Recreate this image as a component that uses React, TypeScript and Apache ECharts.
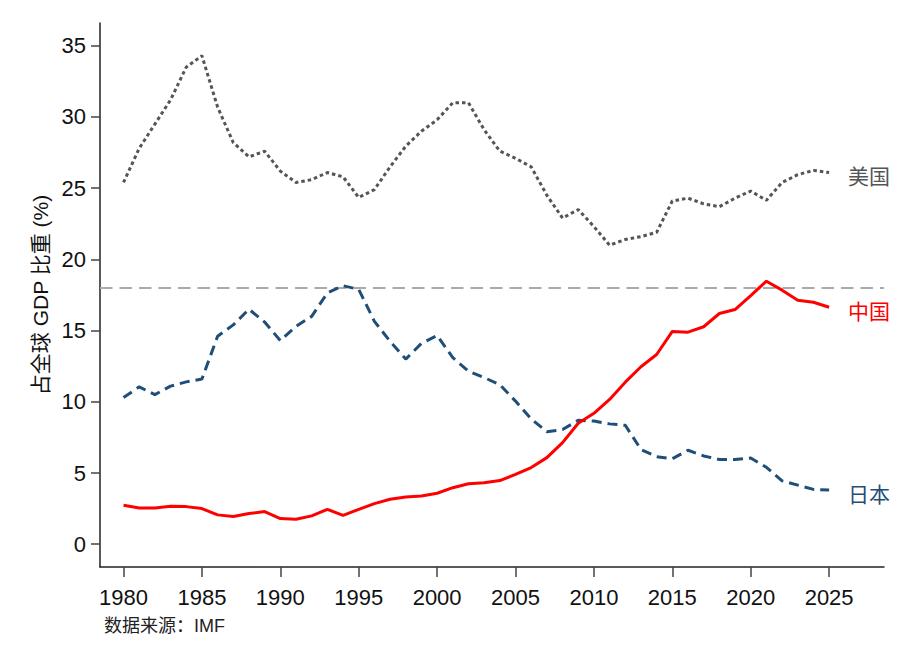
import React, { useEffect, useRef } from "react";
import * as echarts from "echarts";

const years: number[] = [];
for (let y = 1980; y <= 2025; y++) years.push(y);

const usShare = [
  25.4, 27.8, 29.5, 31.2, 33.5, 34.3, 30.7, 28.2, 27.2, 27.6,
  26.2, 25.4, 25.6, 26.1, 25.8, 24.35, 24.9, 26.5, 27.95, 29.0,
  29.8, 31.0, 31.0, 29.1, 27.6, 27.1, 26.5, 24.5, 22.9, 23.5,
  22.3, 21.0, 21.4, 21.6, 21.9, 24.1, 24.3, 23.9, 23.7, 24.3,
  24.8, 24.15, 25.4, 25.95, 26.25, 26.1,
];
const japanShare = [
  10.3, 11.05, 10.5, 11.1, 11.4, 11.6, 14.6, 15.4, 16.5, 15.6,
  14.3, 15.3, 16.0, 17.65, 18.15, 17.9, 15.65, 14.25, 13.0, 14.1,
  14.65, 13.1, 12.15, 11.7, 11.2, 10.05, 8.8, 7.9, 8.05, 8.7,
  8.65, 8.45, 8.35, 6.65, 6.15, 6.0, 6.6, 6.2, 5.95, 5.95,
  6.05, 5.4, 4.45, 4.15, 3.85, 3.8,
];
const chinaShare = [
  2.73, 2.55, 2.55, 2.66, 2.64, 2.5, 2.06, 1.94, 2.15, 2.29,
  1.8, 1.75, 1.99, 2.45, 2.03, 2.45, 2.85, 3.16, 3.32, 3.39,
  3.58, 3.97, 4.25, 4.32, 4.47, 4.9, 5.38, 6.08, 7.13, 8.49,
  9.19, 10.17, 11.38, 12.46, 13.32, 14.94, 14.89, 15.27, 16.2, 16.48,
  17.46, 18.47, 17.84, 17.13, 16.99, 16.64,
];
const seriesNames = ["美国", "日本", "中国"];
const xTicks = [1980, 1985, 1990, 1995, 2000, 2005, 2010, 2015, 2020, 2025];
const yTicks = [0, 5, 10, 15, 20, 25, 30, 35];
const referenceLevel = 18;
const yAxisTitle = "占全球 GDP 比重 (%)";
const sourceNote = "数据来源：IMF";

const FONT = "'Liberation Sans', Arial, 'Noto Sans CJK SC', sans-serif";

const pairs = (vals: number[]) => years.map((y, i) => [y, vals[i]]);

export default function App() {
  const ref = useRef<HTMLDivElement>(null);
  useEffect(() => {
    document.body.style.margin = "0";
    if (!ref.current) return;
    const chart = echarts.init(ref.current, null, { renderer: "svg" });
    const endLabel = (color: string) => ({
      show: true,
      formatter: "{a}",
      color,
      fontSize: 21,
      fontFamily: FONT,
      distance: 19,
      offset: [0, 4],
    });
    chart.setOption({
      animation: false,
      backgroundColor: "#fff",
      textStyle: { fontFamily: FONT },
      title: {
        text: sourceNote,
        left: 104,
        top: 617,
        padding: 0,
        textStyle: { fontSize: 18, fontWeight: "normal", color: "#222", fontFamily: FONT },
      },
      grid: { left: 100, right: 24, top: 23, bottom: 94, containLabel: false },
      xAxis: {
        type: "value",
        min: 1978.5,
        max: 2028.5,
        axisLine: { show: true, onZero: false, lineStyle: { color: "#222", width: 1.5 } },
        axisTick: { show: true, customValues: xTicks, length: 10, lineStyle: { color: "#444", width: 1.5 } },
        axisLabel: {
          customValues: xTicks,
          formatter: (v: number) => String(v),
          fontSize: 22,
          color: "#111",
          margin: 19,
          fontFamily: FONT,
        },
        splitLine: { show: false },
      },
      yAxis: {
        type: "value",
        min: -1.6,
        max: 36.6,
        name: yAxisTitle,
        nameLocation: "middle",
        nameGap: 48,
        nameTextStyle: { fontSize: 21, color: "#111", fontFamily: FONT },
        axisLine: { show: true, onZero: false, lineStyle: { color: "#222", width: 1.5 } },
        axisTick: { show: true, customValues: yTicks, length: 9, lineStyle: { color: "#444", width: 1.5 } },
        axisLabel: {
          customValues: yTicks,
          formatter: (v: number) => String(v),
          fontSize: 22,
          color: "#111",
          margin: 14,
          fontFamily: FONT,
        },
        splitLine: { show: false },
      },
      series: [
        {
          name: seriesNames[0],
          type: "line",
          data: pairs(usShare),
          showSymbol: false,
          symbol: "none",
          lineStyle: { color: "#555555", width: 3, type: [3.5, 3] },
          itemStyle: { color: "#555555" },
          endLabel: endLabel("#555555"),
          markLine: {
            silent: true,
            symbol: "none",
            label: { show: false },
            lineStyle: { color: "#aaaaaa", width: 2, type: [12.5, 7] },
            data: [{ yAxis: referenceLevel }],
            z: 1,
          },
          z: 3,
        },
        {
          name: seriesNames[1],
          type: "line",
          data: pairs(japanShare),
          showSymbol: false,
          symbol: "none",
          lineStyle: { color: "#1f4e79", width: 3, type: [10, 6] },
          itemStyle: { color: "#1f4e79" },
          endLabel: endLabel("#1f4e79"),
          z: 3,
        },
        {
          name: seriesNames[2],
          type: "line",
          data: pairs(chinaShare),
          showSymbol: false,
          symbol: "none",
          lineStyle: { color: "#ff0000", width: 3 },
          itemStyle: { color: "#ff0000" },
          endLabel: endLabel("#ff0000"),
          z: 4,
        },
      ],
    });
    return () => chart.dispose();
  }, []);
  return <div ref={ref} style={{ width: 908, height: 661 }} />;
}
